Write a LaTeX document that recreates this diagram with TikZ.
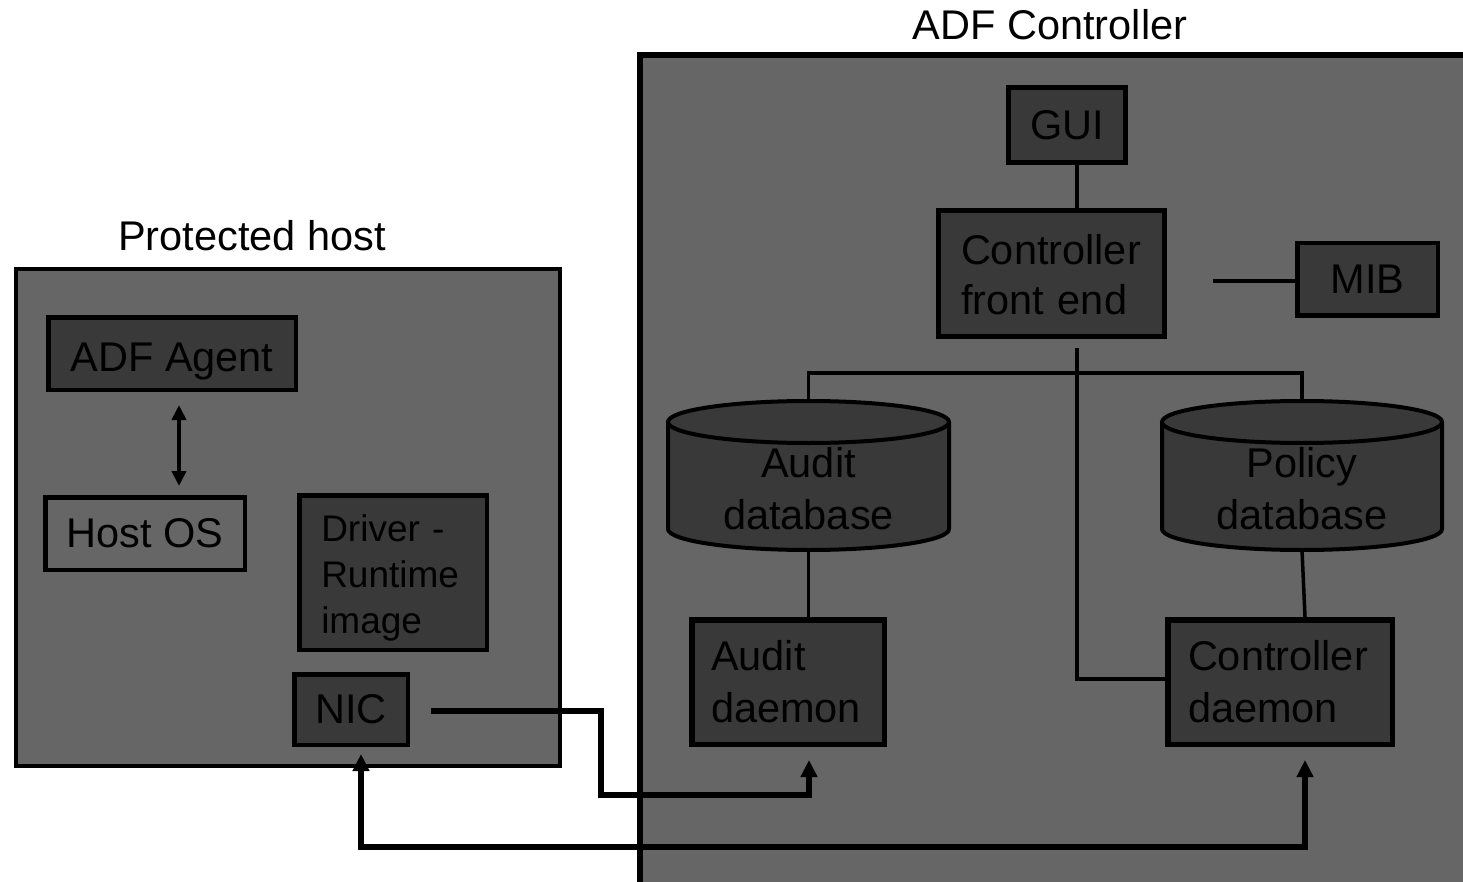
\documentclass[tikz,border=0pt]{standalone}
\usepackage{fontspec}
\setmainfont{Liberation Sans}
\usetikzlibrary{arrows.meta}
\definecolor{panel}{HTML}{666666}
\definecolor{block}{HTML}{393939}
\tikzset{
  every node/.style={font=\fontsize{41.5}{50}\selectfont},
  panelbox/.style={draw=black, fill=panel, line width=4pt, inner sep=0pt},
  blockbox/.style={draw=black, fill=block, line width=4.5pt, inner sep=0pt, text depth=0pt},
  plainbox/.style={draw=black, fill=panel, line width=4.5pt, inner sep=0pt, text depth=0pt},
  leftbox/.style={draw=black, fill=block, line width=4.5pt, align=left, inner ysep=0pt},
  cylbox/.style={draw=black, fill=block, line width=4pt},
  link/.style={line width=3.5pt},
  wire/.style={line width=6pt},
  bigtip/.tip={Triangle[length=17pt,width=16pt]},
  smalltip/.tip={Triangle[length=15pt,width=14pt]},
}
\begin{document}
\begin{tikzpicture}[x=1pt,y=-1pt]
\useasboundingbox (0,0) rectangle (1463,882);
\clip (0,0) rectangle (1463,882);

% ---------- ADF controller ----------
\node[panelbox, line width=5.5pt, minimum width=840pt, minimum height=845pt] (ctrl) at (1060,477.5) {};
\node (ctrltitle) at (1050,25) {ADF Controller};

\node[blockbox, line width=5pt, minimum width=117pt, minimum height=75pt] (gui) at (1067,125) {GUI};
\node[leftbox, line width=5pt, text width=181pt, inner xsep=22.5pt, minimum height=126pt] (fe) at (1051.5,273.5) {\rule{0pt}{32pt}Controller\\front end};
\node[blockbox, minimum width=140.5pt, minimum height=72.5pt] (mib) at (1367.5,279.5) {MIB};

% Audit database cylinder
\filldraw[cylbox] (668,422) -- (668,529) arc[start angle=180, end angle=360, x radius=140.5pt, y radius=21pt] -- (949,422);
\filldraw[cylbox] (808.5,422) ellipse [x radius=140.5pt, y radius=21pt];
\node[align=center, font=\fontsize{41.5}{52}\selectfont, text depth=0pt] (adb) at (808.5,488) {Audit\\database};
\coordinate (adbtop) at (808.5,401);
\coordinate (adbbot) at (808.5,550);

% Policy database cylinder
\filldraw[cylbox] (1162,422) -- (1162,529) arc[start angle=180, end angle=360, x radius=140pt, y radius=21pt] -- (1442,422);
\filldraw[cylbox] (1302,422) ellipse [x radius=140pt, y radius=21pt];
\node[align=center, font=\fontsize{41.5}{52}\selectfont, text depth=0pt] (pdb) at (1302,488) {Policy\\database};
\coordinate (pdbtop) at (1302,401);
\coordinate (pdbbot) at (1302,550);

\node[leftbox, line width=5.5pt, font=\fontsize{41.5}{52}\selectfont, text width=154pt, inner xsep=19.25pt, minimum height=124.5pt] (auditd) at (788,682) {Audit\\daemon};
\node[leftbox, line width=5.5pt, font=\fontsize{41.5}{52}\selectfont, text width=184pt, inner xsep=20.25pt, minimum height=124.5pt] (ctrld) at (1280,682) {Controller\\daemon};

% ---------- Protected host ----------
\node[panelbox, minimum width=544pt, minimum height=497pt] (host) at (288,517.5) {};
\node (hosttitle) at (252,236) {Protected host};

\node[blockbox, text height=35pt, minimum width=247.5pt, minimum height=72.5pt] (agent) at (172,353.5) {ADF Agent};
\node[plainbox, minimum width=199.5pt, minimum height=72.5pt] (hostos) at (145,533.5) {Host OS};
\node[leftbox, font=\fontsize{37}{46}\selectfont, text width=143.5pt, inner xsep=22pt, minimum height=154.5pt] (driver) at (393,572.5) {\rule{0pt}{37pt}Driver -\\Runtime\\image};
\node[blockbox, minimum width=113.5pt, minimum height=70.5pt] (nic) at (351,709.5) {NIC};

% ---------- connectors inside the controller ----------
\draw[link] ([xshift=10]gui.south) -- ([xshift=25.5]fe.north);
\coordinate (mibstub) at (1213,281);
\draw[link] (mibstub) -- (mibstub -| mib.west);
\coordinate (fetap) at (1077,348);
\coordinate (split) at (1077,373);
\draw[link] (adbtop) |- (split) -| (pdbtop);
\draw[link] (fetap) |- ([yshift=3]ctrld.west);
\draw[link] (adbbot) -- (adbbot |- auditd.north);
\draw[link] (pdbbot) -- ([xshift=25]ctrld.north);

% ---------- connectors of the protected host ----------
\draw[line width=4pt, smalltip-smalltip] ([shift={(7,13)}]agent.south) -- ([shift={(34,-9)}]hostos.north);

\coordinate (nicout) at (431,711);
\coordinate (bendA) at (601,795);
\draw[wire, -bigtip] (nicout) -| (bendA) -| ([shift={(21,13)}]auditd.south);

\coordinate (bendB) at (700,847);
\draw[wire, bigtip-bigtip] ([shift={(10,7)}]nic.south) |- (bendB) -| ([shift={(25,13)}]ctrld.south);
\end{tikzpicture}
\end{document}
